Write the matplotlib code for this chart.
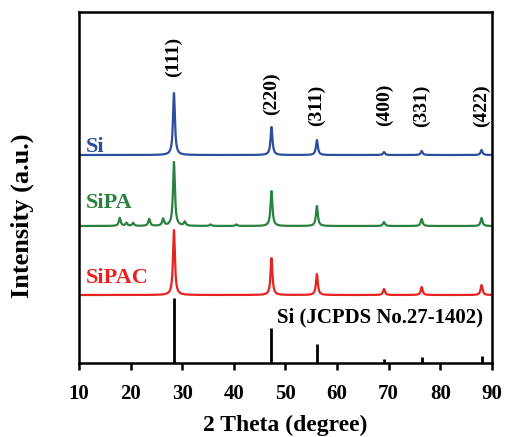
import numpy as np
import matplotlib
matplotlib.use("Agg")
import matplotlib.pyplot as plt

plt.rcParams['font.family'] = ['Liberation Serif', 'DejaVu Serif']
plt.rcParams['font.weight'] = 'bold'

# peak positions (2 theta) and heights
si_pos = [28.4, 47.3, 56.1, 69.1, 76.4, 88.0]
si_h = [62, 28, 15, 3, 4, 5]

sipa_pos = [17.9, 19.2, 20.5, 23.6, 26.3, 28.4, 30.5, 35.5, 40.5, 47.3, 56.1, 69.1, 76.4, 88.0]
sipa_h = [8, 3, 3, 7, 7, 64, 4, 1.5, 1.5, 35, 20, 4, 7, 8]

sipac_pos = [28.4, 47.3, 56.1, 69.1, 76.4, 88.0]
sipac_h = [65, 37, 21, 6, 8, 10]

ref_pos = [28.5, 47.3, 56.1, 69.1, 76.4, 88.0]
ref_h = [65, 35, 19, 4, 6, 7]

hkl = ['(111)', '(220)', '(311)', '(400)', '(331)', '(422)']
hkl_y = [306, 269, 258, 258, 257, 257]

offsets = {'Si': 208, 'SiPA': 137, 'SiPAC': 68}
colors = {'Si': '#2b4f9e', 'SiPA': '#2a8140', 'SiPAC': '#e8231f'}

x = np.linspace(10, 90, 4000)


def pattern(pos, h, w=0.22):
    y = np.zeros_like(x)
    for c, a in zip(pos, h):
        y += a * w**2 / ((x - c)**2 + w**2)
    return y


fig = plt.figure(figsize=(5.05, 4.37), dpi=100)
ax = fig.add_axes([0.1564, 0.1693, 0.8176, 0.8032])

ax.plot(x, offsets['Si'] + pattern(si_pos, si_h), color=colors['Si'], lw=1.6)
ax.plot(x, offsets['SiPA'] + pattern(sipa_pos, sipa_h), color=colors['SiPA'], lw=1.6)
ax.plot(x, offsets['SiPAC'] + pattern(sipac_pos, sipac_h), color=colors['SiPAC'], lw=1.6)
ax.vlines(ref_pos, 0, ref_h, color='black', lw=2)

ax.text(11.3, offsets['Si'] + 8, 'Si', color=colors['Si'], fontsize=16, fontweight='bold', va='center')
ax.text(11.3, offsets['SiPA'] + 23, 'SiPA', color=colors['SiPA'], fontsize=16, fontweight='bold', va='center')
ax.text(11.3, offsets['SiPAC'] + 17, 'SiPAC', color=colors['SiPAC'], fontsize=16, fontweight='bold', va='center')
ax.text(48.3, 46, 'Si (JCPDS No.27-1402)', fontsize=15, fontweight='bold', va='center')

for p, lab, yy in zip(si_pos, hkl, hkl_y):
    ax.text(p, yy, lab, rotation=90, fontsize=14, fontweight='bold', ha='center', va='center')

ax.set_xlim(10, 90)
ax.set_ylim(0, 351)
ax.set_xticks(range(10, 91, 10))
ax.set_yticks([])
ax.tick_params(axis='x', direction='out', length=5, width=1.8, labelsize=15, pad=10)
for s in ax.spines.values():
    s.set_linewidth(1.8)
for lab in ax.get_xticklabels():
    lab.set_fontweight('bold')

ax.set_xlabel('2 Theta (degree)', fontsize=17, fontweight='bold', labelpad=8)
ax.set_ylabel('Intensity (a.u.)', fontsize=19, fontweight='bold')
ax.yaxis.set_label_coords(-0.108, 0.42)

fig.savefig('out.png', dpi=100)
